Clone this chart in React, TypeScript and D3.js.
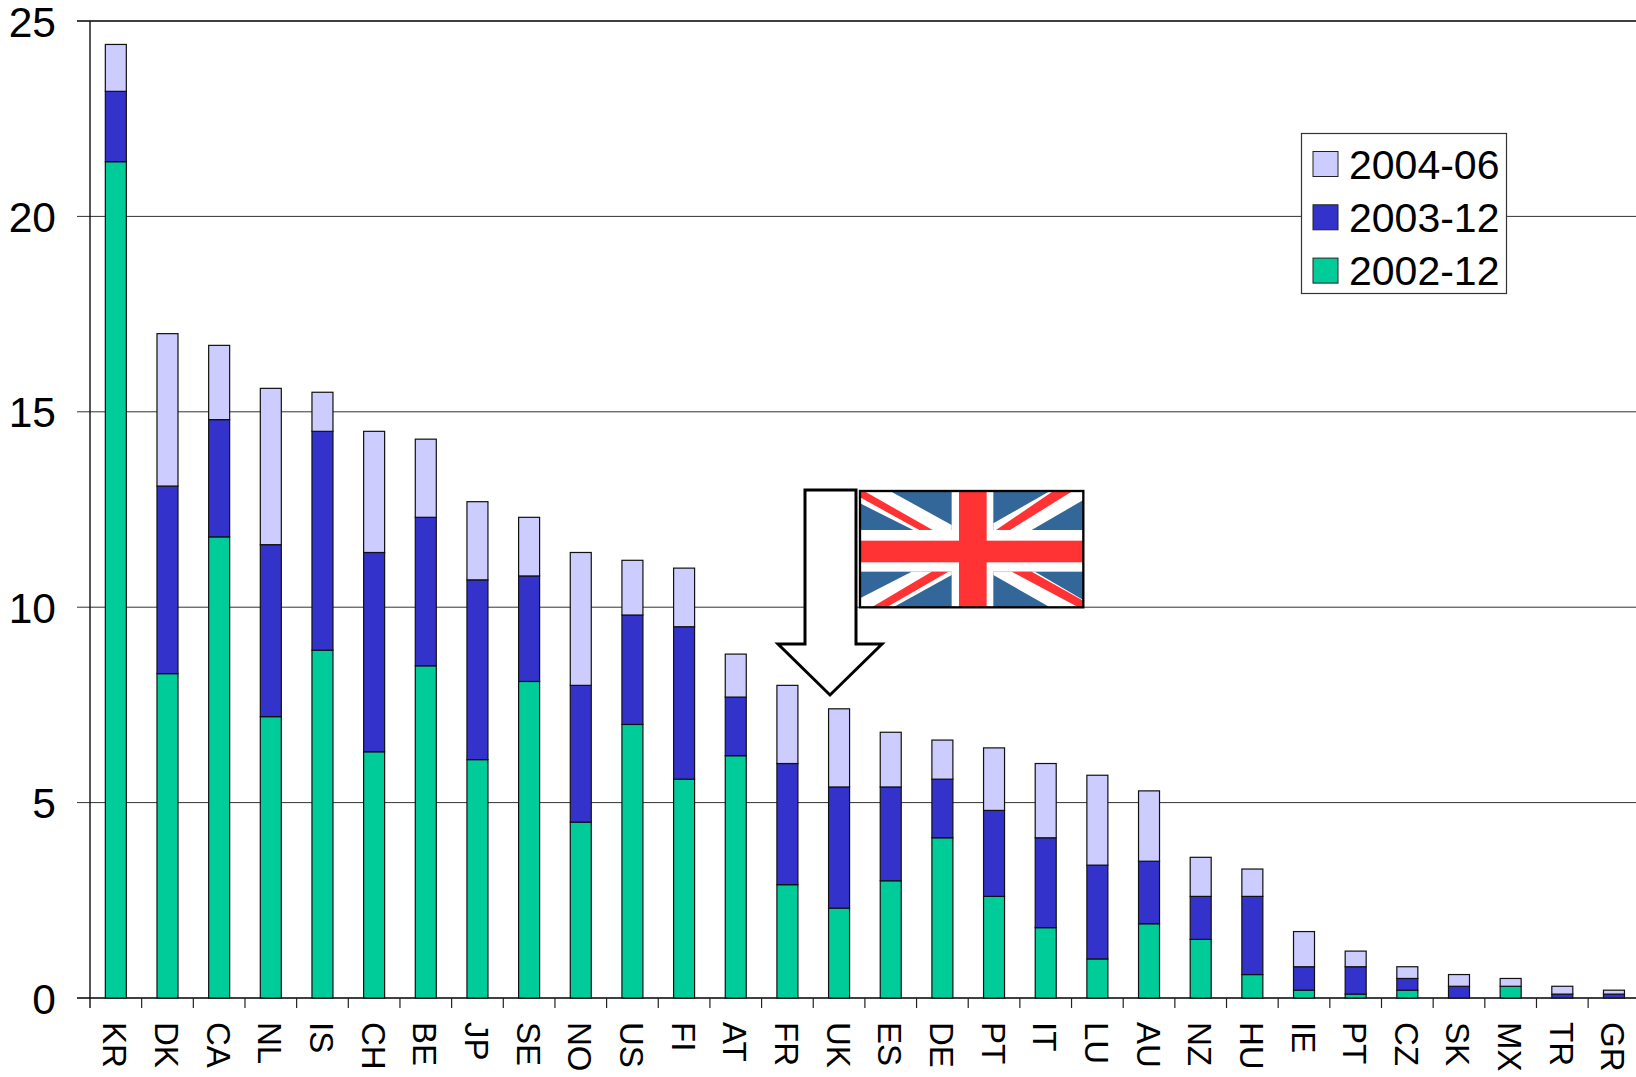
import React from "react";
import * as d3 from "d3";

const categories = ["KR","DK","CA","NL","IS","CH","BE","JP","SE","NO","US","FI","AT","FR","UK","ES","DE","PT","IT","LU","AU","NZ","HU","IE","PT ","CZ","SK","MX","TR","GR"];
const s2002 = [21.4,8.3,11.8,7.2,8.9,6.3,8.5,6.1,8.1,4.5,7.0,5.6,6.2,2.9,2.3,3.0,4.1,2.6,1.8,1.0,1.9,1.5,0.6,0.2,0.1,0.2,0,0.3,0,0];
const s2003 = [1.8,4.8,3.0,4.4,5.6,5.1,3.8,4.6,2.7,3.5,2.8,3.9,1.5,3.1,3.1,2.4,1.5,2.2,2.3,2.4,1.6,1.1,2.0,0.6,0.7,0.3,0.3,0,0.1,0.1];
const s2004 = [1.2,3.9,1.9,4.0,1.0,3.1,2.0,2.0,1.5,3.4,1.4,1.5,1.1,2.0,2.0,1.4,1.0,1.6,1.9,2.3,1.8,1.0,0.7,0.9,0.4,0.3,0.3,0.2,0.2,0.1];
const seriesKeys = ["2002-12","2003-12","2004-06"];
const seriesValues = [s2002,s2003,s2004];
const colors = ["#00CC99","#3333CC","#CCCCFF"];
const legendOrder = [2,1,0];
const yTicks = [0,5,10,15,20,25];

const FONT = "'Liberation Sans', Arial, sans-serif";

const table = categories.map((c,i)=>{
  const r:any = {c};
  seriesKeys.forEach((k,j)=>{ r[k]=seriesValues[j][i]; });
  return r;
});
const stacked = d3.stack().keys(seriesKeys)(table);

const x = d3.scaleBand().domain(categories).range([90,90+30*51.66]).paddingInner(0).paddingOuter(0);
const y = d3.scaleLinear().domain([0,25]).range([998,21]);
const barW = 21;

const Flag = () => (
  <g transform="translate(760,470) scale(0.33333)">
    <rect x={300} y={63} width={670} height={349} fill="#336699"/>
    <g fill="#fff">
      <polygon points="300,63 390,63 575,165 575,180 460,180 300,100"/>
      <polygon points="870,63 970,63 970,90 815,180 700,180 700,160"/>
      <polygon points="300,385 455,305 575,305 575,315 400,412 300,412"/>
      <polygon points="700,305 825,305 970,390 970,412 870,412 700,315"/>
      <rect x={300} y={180} width={670} height={125}/>
      <rect x={575} y={63} width={125} height={349}/>
    </g>
    <g fill="#FF3333">
      <polygon points="300,68 312,63 518,180 478,180 300,82"/>
      <polygon points="880,63 938,63 750,180 708,180"/>
      <polygon points="335,412 515,305 565,305 380,412"/>
      <polygon points="755,305 815,305 970,392 970,412 955,412"/>
      <rect x={300} y={212} width={670} height={65}/>
      <rect x={597} y={63} width={83} height={349}/>
    </g>
    <rect x={300} y={63} width={670} height={349} fill="none" stroke="#000" strokeWidth={7}/>
  </g>
);

export default function App(){
  return (
    <svg width={1636} height={1077} viewBox="0 0 1636 1077" style={{position:"absolute",left:0,top:0,background:"#fff"}} fontFamily={FONT}>
      {yTicks.map(t=>(
        <g key={t}>
          <line x1={77} x2={1636} y1={y(t)} y2={y(t)} stroke={t===0||t===25?"#000":"#333"} strokeWidth={t===0||t===25?1.6:1}/>
          <text x={56} y={y(t)+15.5} textAnchor="end" fontSize={42.5} fill="#000">{t}</text>
        </g>
      ))}
      <line x1={90} x2={90} y1={21} y2={1008} stroke="#111" strokeWidth={1.4}/>
      {categories.map((c)=>{
        const left = x(c)!;
        const cx = left + x.bandwidth()/2;
        return (
          <g key={c}>
            <line x1={left+x.bandwidth()} x2={left+x.bandwidth()} y1={998} y2={1008} stroke="#222" strokeWidth={1.2}/>
            <text transform={`translate(${cx-12.5},1022) rotate(90)`} fontSize={33} fill="#000">{c.trim()}</text>
          </g>
        );
      })}
      {stacked.map((s,j)=>(
        <g key={s.key}>
          {s.map((d,i)=>{
            const cx = x(categories[i])!+x.bandwidth()/2;
            const h = y(d[0])-y(d[1]);
            if(h<=0) return null;
            return <rect key={i} x={cx-barW/2} y={y(d[1])} width={barW} height={h} fill={colors[j]} stroke="#111" strokeWidth={1.2}/>;
          })}
        </g>
      ))}
      <Flag/>
      <polygon points="805,490 856,490 856,644 882,644 830,695 778,644 805,644" fill="#fff" stroke="#000" strokeWidth={3}/>
      <rect x={1301.5} y={133.5} width={205} height={160} fill="#fff" stroke="#333" strokeWidth={1.2}/>
      {legendOrder.map((j,i)=>{
        const ly = 164 + i*53.3;
        return (
          <g key={j}>
            <rect x={1313} y={ly-12.5} width={25} height={25} fill={colors[j]} stroke="#222" strokeWidth={1}/>
            <text x={1349} y={ly+14.5} fontSize={41} fill="#000">{seriesKeys[j]}</text>
          </g>
        );
      })}
    </svg>
  );
}
